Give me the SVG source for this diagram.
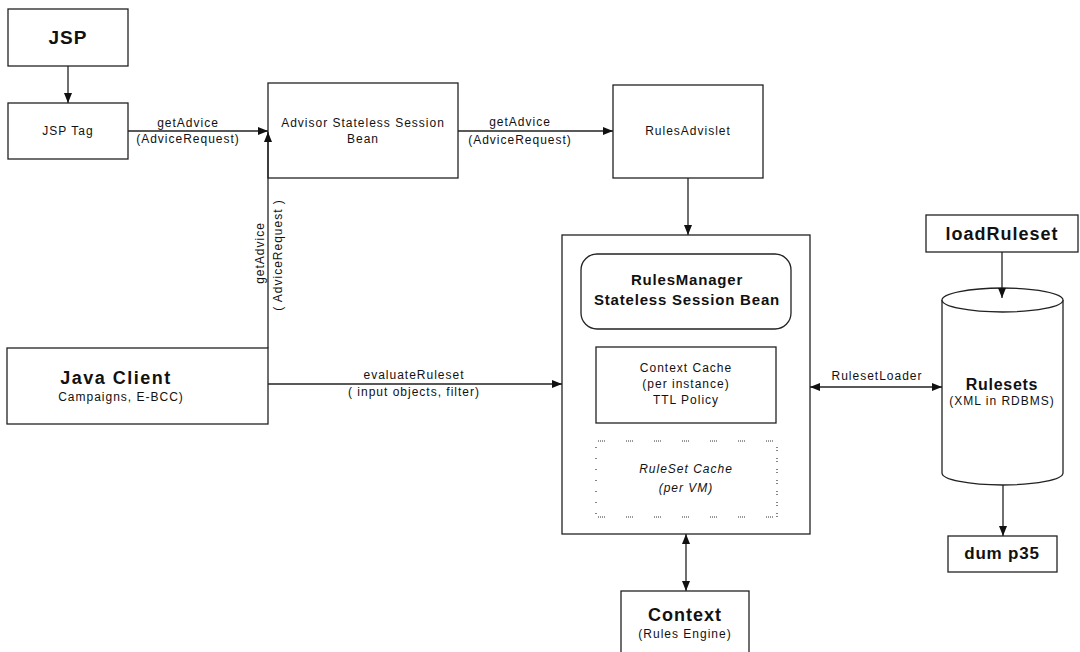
<svg xmlns="http://www.w3.org/2000/svg" width="1080" height="652" viewBox="0 0 1080 652">
<defs>
<style>
.box{fill:#fff;stroke:#222;stroke-width:1.3}
.ln{stroke:#222;stroke-width:1.3;fill:none}
.dot{stroke:#333;stroke-width:1.2;fill:none}
text{font-family:"Liberation Sans",Arial,sans-serif;fill:#111;text-anchor:middle}
.t{font-size:12px;letter-spacing:1px}
.b{font-weight:bold}
.i{font-style:italic}
</style>
<marker id="ah" viewBox="0 0 10 8" refX="10" refY="4" markerWidth="10" markerHeight="8" markerUnits="userSpaceOnUse" orient="auto-start-reverse">
<path d="M0,0 L10,4 L0,8 z" fill="#111"/>
</marker>
</defs>
<rect width="1080" height="652" fill="#fff"/>

<g id="jsp">
<rect class="box" x="8" y="9" width="120" height="57"/>
<text class="b" x="68" y="44" font-size="19" letter-spacing="1">JSP</text>
</g>

<g id="jsp-tag">
<rect class="box" x="8" y="103" width="120" height="56"/>
<text class="t" x="68" y="135">JSP Tag</text>
</g>

<g id="advisor">
<rect class="box" x="268" y="83" width="190" height="95"/>
<text class="t" x="363" y="127">Advisor Stateless Session</text>
<text class="t" x="363" y="143">Bean</text>
</g>

<g id="rules-advislet">
<rect class="box" x="613" y="85" width="150" height="93"/>
<text class="t" x="688" y="135">RulesAdvislet</text>
</g>

<g id="java-client">
<rect class="box" x="7" y="348" width="261" height="76"/>
<text class="b" x="116" y="384" font-size="18" letter-spacing="1.5">Java Client</text>
<text class="t" x="121" y="401">Campaigns, E-BCC)</text>
</g>

<g id="rules-manager">
<rect class="box" x="562" y="235" width="248" height="299"/>
<rect class="box" x="581" y="254" width="210" height="75" rx="16" ry="16"/>
<text class="b" x="687" y="285" font-size="15" letter-spacing="0.8">RulesManager</text>
<text class="b" x="687" y="305" font-size="15" letter-spacing="0.8">Stateless Session Bean</text>
</g>

<g id="context-cache">
<rect class="box" x="596" y="347" width="180" height="76"/>
<text class="t" x="686" y="372">Context Cache</text>
<text class="t" x="686" y="388">(per instance)</text>
<text class="t" x="686" y="404">TTL Policy</text>
</g>

<g id="ruleset-cache">
<line class="dot" x1="598" y1="441" x2="777" y2="441" stroke-dasharray="1 1 1 1 1 1 1 21"/>
<line class="dot" x1="598" y1="517" x2="777" y2="517" stroke-dasharray="1 1 1 1 1 1 1 21"/>
<line class="dot" x1="596" y1="447" x2="596" y2="517" stroke-dasharray="1 10"/>
<line class="dot" x1="777" y1="447" x2="777" y2="517" stroke-dasharray="1 2 1 7"/>
<text class="t i" x="686" y="473">RuleSet Cache</text>
<text class="t i" x="686" y="492">(per VM)</text>
</g>

<g id="load-ruleset">
<rect class="box" x="926" y="215" width="152" height="37"/>
<text class="b" x="1002" y="240" font-size="18" letter-spacing="1">loadRuleset</text>
</g>

<g id="rulesets">
<path class="box" d="M942,300 L942,473 A60.5,12 0 0 0 1063,473 L1063,300"/>
<ellipse class="box" cx="1002.5" cy="300" rx="60.5" ry="12"/>
<text class="b" x="1002" y="390" font-size="16" letter-spacing="0.7">Rulesets</text>
<text class="t" x="1002" y="405" letter-spacing="0.8">(XML in RDBMS)</text>
</g>

<g id="dump">
<rect class="box" x="948" y="536" width="109" height="36"/>
<text class="b" x="1002" y="559" font-size="17" letter-spacing="0.8">dum p35</text>
</g>

<g id="context">
<rect class="box" x="621" y="591" width="128" height="70"/>
<text class="b" x="685" y="621" font-size="18" letter-spacing="1">Context</text>
<text class="t" x="685" y="638" letter-spacing="0.8">(Rules Engine)</text>
</g>

<g id="connectors">
<line class="ln" x1="68" y1="66" x2="68" y2="103" marker-end="url(#ah)"/>
<line class="ln" x1="128" y1="131" x2="268" y2="131" marker-end="url(#ah)"/>
<text class="t" x="188" y="127">getAdvice</text>
<text class="t" x="188" y="143">(AdviceRequest)</text>
<line class="ln" x1="268" y1="348" x2="268" y2="132" marker-end="url(#ah)"/>
<text class="t" x="264" y="253" transform="rotate(-90 264 253)">getAdvice</text>
<text class="t" x="282" y="255" transform="rotate(-90 282 255)">( AdviceRequest )</text>
<line class="ln" x1="458" y1="131" x2="613" y2="131" marker-end="url(#ah)"/>
<text class="t" x="520" y="126">getAdvice</text>
<text class="t" x="520" y="144">(AdviceRequest)</text>
<line class="ln" x1="688" y1="178" x2="688" y2="235" marker-end="url(#ah)"/>
<line class="ln" x1="268" y1="384" x2="562" y2="384" marker-end="url(#ah)"/>
<text class="t" x="414" y="379">evaluateRuleset</text>
<text class="t" x="414" y="396">( input objects, filter)</text>
<line class="ln" x1="810" y1="387" x2="942" y2="387" marker-start="url(#ah)" marker-end="url(#ah)"/>
<text class="t" x="877" y="380">RulesetLoader</text>
<line class="ln" x1="1002" y1="252" x2="1002" y2="298" marker-end="url(#ah)"/>
<line class="ln" x1="1003" y1="485" x2="1003" y2="536" marker-end="url(#ah)"/>
<line class="ln" x1="686" y1="534" x2="686" y2="591" marker-start="url(#ah)" marker-end="url(#ah)"/>
</g>
</svg>
